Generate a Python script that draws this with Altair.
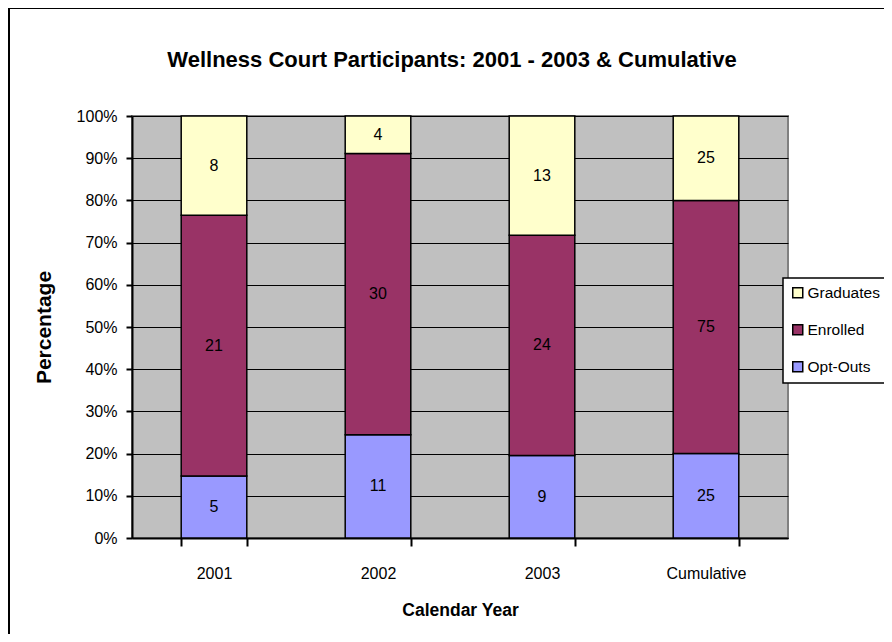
import altair as alt
import pandas as pd

categories = ["2001", "2002", "2003", "Cumulative"]
opt_outs = [5, 11, 9, 25]
enrolled = [21, 30, 24, 75]
graduates = [8, 4, 13, 25]
series = ["Graduates", "Enrolled", "Opt-Outs"]
colors = ["#FFFFCC", "#993366", "#9999FF"]
y_ticks = [i / 10 for i in range(11)]
chart_title = "Wellness Court Participants: 2001 - 2003 & Cumulative"

rows = []
for i, c in enumerate(categories):
    rows.append({"cat": c, "status": "Opt-Outs", "n": opt_outs[i], "ord": 0})
    rows.append({"cat": c, "status": "Enrolled", "n": enrolled[i], "ord": 1})
    rows.append({"cat": c, "status": "Graduates", "n": graduates[i], "ord": 2})
df = pd.DataFrame(rows)

FONT = "Liberation Sans"

xenc = alt.X(
    "cat:N",
    sort=categories,
    scale=alt.Scale(paddingInner=0.6, paddingOuter=0.3),
    axis=alt.Axis(
        title="Calendar Year",
        labelAngle=0,
        tickBand="extent",
        tickSize=8,
        tickWidth=2,
        tickColor="black",
        domainColor="black",
        domainWidth=2,
        labelPadding=19,
        labelFontSize=16,
        labelFont=FONT,
        labelColor="black",
        titleFontSize=17.5,
        titleFont=FONT,
        titleFontWeight="bold",
        titleColor="black",
        titlePadding=20,
        grid=False,
    ),
)

bars = alt.Chart(df).mark_bar(stroke="black", strokeWidth=1.5).encode(
    x=xenc,
    y=alt.Y(
        "n:Q",
        stack="normalize",
        scale=alt.Scale(domain=[0, 1]),
        axis=alt.Axis(
            title="Percentage",
            values=y_ticks,
            format=".0%",
            tickSize=6,
            tickWidth=2,
            tickColor="black",
            domainColor="black",
            domainWidth=2,
            labelPadding=9,
            labelFontSize=16,
            labelFont=FONT,
            labelColor="black",
            titleFontSize=21,
            titleFont=FONT,
            titleFontWeight="bold",
            titleColor="black",
            titlePadding=22,
            grid=True,
            gridColor="black",
            gridWidth=1.2,
        ),
    ),
    color=alt.Color(
        "status:N",
        scale=alt.Scale(domain=series, range=colors),
        legend=alt.Legend(
            title=None,
            orient="none",
            legendX=651,
            legendY=162,
            symbolType="square",
            symbolSize=100,
            symbolStrokeColor="black",
            symbolStrokeWidth=1.5,
            labelFontSize=15.5,
            labelFont=FONT,
            labelColor="black",
            strokeColor="black",
            fillColor="white",
            padding=7,
            rowPadding=19,
            labelOffset=2,
        ),
    ),
    order=alt.Order("ord:Q", sort="ascending"),
)

labels = (
    alt.Chart(df)
    .transform_joinaggregate(total="sum(n)", groupby=["cat"])
    .transform_window(cum="sum(n)", sort=[alt.SortField("ord")], groupby=["cat"], frame=[None, 0])
    .transform_calculate(mid="(datum.cum - datum.n / 2) / datum.total")
    .mark_text(font=FONT, fontSize=16, color="black")
    .encode(
        x=alt.X("cat:N", sort=categories),
        y=alt.Y("mid:Q"),
        text=alt.Text("n:Q"),
    )
)

single = alt.Data(values=[{"k": 1}])
title_text = alt.Chart(single).mark_text(
    text=chart_title, font=FONT, fontSize=22, fontWeight="bold", color="black",
    align="center", baseline="alphabetic",
).encode(x=alt.value(320), y=alt.value(-49))

frame_left = alt.Chart(single).mark_rule(color="black", strokeWidth=2).encode(
    x=alt.value(-123), y=alt.value(-109), y2=alt.value(520)
)
frame_top = alt.Chart(single).mark_rule(color="black", strokeWidth=2).encode(
    x=alt.value(-124), x2=alt.value(760), y=alt.value(-108)
)

chart = (
    alt.layer(bars, labels, title_text, frame_left, frame_top)
    .properties(
        width=656,
        height=422,
        autosize=alt.AutoSizeParams(type="none"),
        padding={"left": 124, "top": 108, "right": 96, "bottom": 96},
    )
    .configure_view(fill="#C0C0C0", stroke="#808080", strokeWidth=2)
    .configure_legend(strokeWidth=1.5)
)

chart.save("out.html", embed_options={"renderer": "svg", "actions": False})
